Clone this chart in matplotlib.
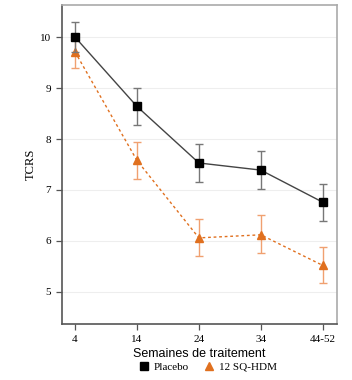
import numpy as np
import matplotlib.pyplot as plt
from matplotlib.lines import Line2D

semaines = ["4", "14", "24", "34", "44-52"]

placebo = [10.0, 8.64, 7.53, 7.39, 6.76]
placebo_haut = [10.30, 9.00, 7.90, 7.76, 7.12]
placebo_bas = [9.70, 8.27, 7.16, 7.02, 6.39]

sq_hdm = [9.71, 7.58, 6.06, 6.12, 5.52]
sq_hdm_haut = [10.05, 7.95, 6.43, 6.51, 5.88]
sq_hdm_bas = [9.40, 7.22, 5.70, 5.76, 5.18]

orange = "#e0701f"
serif = "Liberation Serif"

fig = plt.figure(figsize=(3.52, 3.80), dpi=100)
ax = fig.add_axes([62 / 352, 1 - 324 / 380, 275 / 352, 319 / 380])

x = np.arange(len(semaines))

# lignes de grille légères
for y in range(5, 11):
    ax.axhline(y, color="#eeeeee", lw=0.8, zorder=0)

p = np.array(placebo)
s = np.array(sq_hdm)

ax.errorbar(x, s, yerr=[s - np.array(sq_hdm_bas), np.array(sq_hdm_haut) - s],
            color=orange, ecolor="#f0a070", elinewidth=1.0, capsize=3, capthick=1.0,
            ls=(0, (2, 2)), lw=1.0, marker="^", ms=6, mfc=orange, mec=orange, zorder=2)
ax.errorbar(x, p, yerr=[p - np.array(placebo_bas), np.array(placebo_haut) - p],
            color="#444444", ecolor="#777777", elinewidth=1.0, capsize=3, capthick=1.0,
            ls="-", lw=1.0, marker="s", ms=6, mfc="black", mec="black", zorder=3)

ax.set_xlim(-0.21, 4.23)
ax.set_ylim(4.37, 10.63)
ax.set_xticks(x)
ax.set_xticklabels(semaines)
ax.set_yticks(range(5, 11))

for lab in ax.get_xticklabels() + ax.get_yticklabels():
    lab.set_fontfamily(serif)
    lab.set_fontsize(8)

ax.tick_params(length=4, width=0.9, color="#555555", pad=4)
for side in ["left", "bottom"]:
    ax.spines[side].set_color("#555555")
    ax.spines[side].set_linewidth(1.2)
for side in ["top", "right"]:
    ax.spines[side].set_color("#aaaaaa")
    ax.spines[side].set_linewidth(1.2)

ax.set_ylabel("TCRS", fontfamily=serif, fontsize=9, labelpad=2)
ax.set_xlabel("Semaines de traitement", fontfamily="Liberation Sans", fontsize=9, labelpad=3)

handles = [
    Line2D([], [], ls="none", marker="s", ms=6, color="black"),
    Line2D([], [], ls="none", marker="^", ms=6, color=orange),
]
fig.legend(handles, ["Placebo", "12 SQ-HDM"], loc="center", bbox_to_anchor=(207 / 352, 1 - 367 / 380),
           ncol=2, frameon=False, prop={"family": serif, "size": 8},
           handletextpad=0.3, columnspacing=1.2, handlelength=1.2)

fig.savefig("out.png", dpi=100)
